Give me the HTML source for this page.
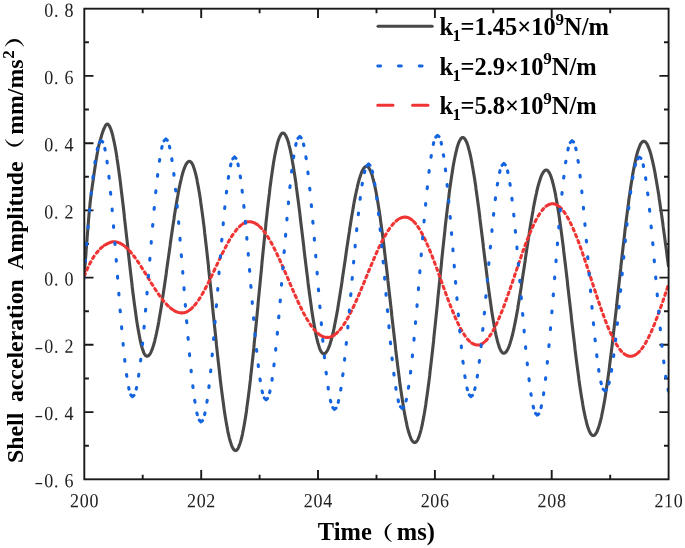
<!DOCTYPE html>
<html lang="en"><head><meta charset="utf-8"><title>Shell acceleration amplitude</title>
<style>html,body{margin:0;padding:0;background:#fff}svg{display:block}</style></head>
<body>
<svg width="685" height="548" viewBox="0 0 685 548">
<rect width="685" height="548" fill="#fff"/>
<g stroke="#1a1a1a" stroke-width="1.9" fill="none" stroke-linecap="butt">
<path d="M142.7 479.3v-4.6M142.7 8.7v4.6M201.2 479.3v-9.2M201.2 8.7v9.2M259.6 479.3v-4.6M259.6 8.7v4.6M318.0 479.3v-9.2M318.0 8.7v9.2M376.5 479.3v-4.6M376.5 8.7v4.6M434.9 479.3v-9.2M434.9 8.7v9.2M493.3 479.3v-4.6M493.3 8.7v4.6M551.7 479.3v-9.2M551.7 8.7v9.2M610.2 479.3v-4.6M610.2 8.7v4.6M84.3 445.7h4.6M668.6 445.7h-4.6M84.3 412.1h9.2M668.6 412.1h-9.2M84.3 378.5h4.6M668.6 378.5h-4.6M84.3 344.8h9.2M668.6 344.8h-9.2M84.3 311.2h4.6M668.6 311.2h-4.6M84.3 277.6h9.2M668.6 277.6h-9.2M84.3 244.0h4.6M668.6 244.0h-4.6M84.3 210.4h9.2M668.6 210.4h-9.2M84.3 176.8h4.6M668.6 176.8h-4.6M84.3 143.2h9.2M668.6 143.2h-9.2M84.3 109.5h4.6M668.6 109.5h-4.6M84.3 75.9h9.2M668.6 75.9h-9.2M84.3 42.3h4.6M668.6 42.3h-4.6"/>
</g>
<clipPath id="c"><rect x="84.3" y="8.7" width="584.3" height="470.6"/></clipPath>
<g clip-path="url(#c)" fill="none" stroke-linejoin="round">
<path d="M84.3,274.0 L84.7,269.1 L85.1,264.1 L85.5,259.2 L85.9,254.3 L86.2,249.4 L86.6,244.5 L87.0,239.6 L87.4,234.6 L87.8,229.5 L88.2,224.3 L88.6,219.3 L89.0,214.6 L89.4,210.3 L89.8,206.5 L90.1,203.0 L90.5,199.6 L90.9,196.3 L91.3,193.3 L91.7,190.3 L92.1,187.4 L92.5,184.6 L92.9,181.9 L93.3,179.3 L93.7,176.6 L94.0,174.0 L94.4,171.3 L94.8,168.7 L95.2,166.0 L95.6,163.4 L96.0,160.9 L96.4,158.4 L96.8,156.0 L97.2,153.7 L97.6,151.5 L97.9,149.5 L98.3,147.6 L98.7,145.8 L99.1,144.2 L99.5,142.8 L99.9,141.4 L100.3,140.0 L100.7,138.6 L101.1,137.3 L101.5,136.0 L101.8,134.7 L102.2,133.5 L102.6,132.3 L103.0,131.2 L103.4,130.2 L103.8,129.2 L104.2,128.2 L104.6,127.4 L105.0,126.6 L105.3,125.9 L105.7,125.3 L106.1,124.8 L106.5,124.4 L106.9,124.0 L107.3,124.0 L107.7,124.2 L108.1,124.4 L108.5,124.8 L108.9,125.3 L109.2,125.8 L109.6,126.5 L110.0,127.3 L110.4,128.2 L110.8,129.2 L111.2,130.3 L111.6,131.5 L112.0,132.8 L112.4,134.3 L112.8,135.8 L113.1,137.4 L113.5,139.1 L113.9,140.9 L114.3,142.8 L114.7,144.7 L115.1,146.8 L115.5,149.0 L115.9,151.2 L116.3,153.5 L116.7,156.0 L117.0,158.4 L117.4,161.0 L117.8,163.6 L118.2,166.3 L118.6,169.1 L119.0,172.0 L119.4,174.9 L119.8,177.8 L120.2,180.9 L120.6,184.0 L120.9,187.1 L121.3,190.3 L121.7,193.5 L122.1,196.8 L122.5,200.1 L122.9,203.5 L123.3,206.8 L123.7,210.3 L124.1,213.7 L124.4,217.2 L124.8,220.7 L125.2,224.2 L125.6,227.7 L126.0,231.3 L126.4,234.8 L126.8,238.4 L127.2,241.9 L127.6,245.5 L128.0,249.0 L128.3,252.5 L128.7,256.1 L129.1,259.6 L129.5,263.1 L129.9,266.5 L130.3,270.0 L130.7,273.4 L131.1,276.8 L131.5,280.2 L131.9,283.5 L132.2,286.7 L132.6,290.0 L133.0,293.2 L133.4,296.3 L133.8,299.4 L134.2,302.4 L134.6,305.4 L135.0,308.3 L135.4,311.1 L135.8,313.9 L136.1,316.6 L136.5,319.3 L136.9,321.8 L137.3,324.3 L137.7,326.7 L138.1,329.0 L138.5,331.3 L138.9,333.4 L139.3,335.5 L139.7,337.5 L140.0,339.4 L140.4,341.2 L140.8,342.9 L141.2,344.5 L141.6,346.0 L142.0,347.4 L142.4,348.7 L142.8,349.9 L143.2,351.0 L143.5,352.0 L143.9,352.9 L144.3,353.7 L144.7,354.4 L145.1,355.0 L145.5,355.5 L145.9,355.8 L146.3,356.1 L146.7,356.2 L147.1,356.3 L147.4,356.2 L147.8,356.1 L148.2,355.9 L148.6,355.6 L149.0,355.2 L149.4,354.7 L149.8,354.2 L150.2,353.6 L150.6,352.9 L151.0,352.1 L151.3,351.3 L151.7,350.3 L152.1,349.3 L152.5,348.3 L152.9,347.1 L153.3,345.9 L153.7,344.6 L154.1,343.2 L154.5,341.8 L154.9,340.3 L155.2,338.7 L155.6,337.1 L156.0,335.3 L156.4,333.6 L156.8,331.7 L157.2,329.8 L157.6,327.9 L158.0,325.9 L158.4,323.8 L158.8,321.7 L159.1,319.5 L159.5,317.3 L159.9,315.0 L160.3,312.7 L160.7,310.3 L161.1,307.9 L161.5,305.5 L161.9,303.0 L162.3,300.5 L162.6,297.9 L163.0,295.3 L163.4,292.7 L163.8,290.1 L164.2,287.4 L164.6,284.7 L165.0,282.0 L165.4,279.2 L165.8,276.5 L166.2,273.7 L166.5,270.9 L166.9,268.1 L167.3,265.3 L167.7,262.5 L168.1,259.7 L168.5,256.9 L168.9,254.1 L169.3,251.3 L169.7,248.5 L170.1,245.7 L170.4,242.9 L170.8,240.2 L171.2,237.4 L171.6,234.7 L172.0,232.0 L172.4,229.3 L172.8,226.6 L173.2,224.0 L173.6,221.4 L174.0,218.8 L174.3,216.2 L174.7,213.7 L175.1,211.3 L175.5,208.8 L175.9,206.4 L176.3,204.1 L176.7,201.8 L177.1,199.5 L177.5,197.3 L177.9,195.2 L178.2,193.1 L178.6,191.0 L179.0,189.0 L179.4,187.1 L179.8,185.2 L180.2,183.4 L180.6,181.7 L181.0,180.0 L181.4,178.3 L181.7,176.8 L182.1,175.3 L182.5,173.9 L182.9,172.5 L183.3,171.3 L183.7,170.1 L184.1,168.9 L184.5,167.9 L184.9,166.9 L185.3,166.0 L185.6,165.2 L186.0,164.4 L186.4,163.8 L186.8,163.2 L187.2,162.7 L187.6,162.2 L188.0,161.9 L188.4,161.6 L188.8,161.4 L189.2,161.3 L189.5,161.3 L189.9,161.4 L190.3,161.6 L190.7,161.8 L191.1,162.2 L191.5,162.7 L191.9,163.3 L192.3,163.9 L192.7,164.7 L193.1,165.6 L193.4,166.6 L193.8,167.7 L194.2,168.8 L194.6,170.1 L195.0,171.5 L195.4,172.9 L195.8,174.5 L196.2,176.1 L196.6,177.9 L197.0,179.7 L197.3,181.6 L197.7,183.7 L198.1,185.8 L198.5,187.9 L198.9,190.2 L199.3,192.5 L199.7,195.0 L200.1,197.5 L200.5,200.1 L200.8,202.7 L201.2,205.5 L201.6,208.3 L202.0,211.1 L202.4,214.1 L202.8,217.1 L203.2,220.1 L203.6,223.3 L204.0,226.4 L204.4,229.7 L204.7,233.0 L205.1,236.3 L205.5,239.7 L205.9,243.2 L206.3,246.6 L206.7,250.2 L207.1,253.7 L207.5,257.4 L207.9,261.0 L208.3,264.7 L208.6,268.4 L209.0,272.1 L209.4,275.8 L209.8,279.6 L210.2,283.4 L210.6,287.2 L211.0,291.0 L211.4,294.9 L211.8,298.7 L212.2,302.5 L212.5,306.4 L212.9,310.2 L213.3,314.1 L213.7,317.9 L214.1,321.7 L214.5,325.6 L214.9,329.4 L215.3,333.2 L215.7,336.9 L216.1,340.7 L216.4,344.4 L216.8,348.1 L217.2,351.7 L217.6,355.4 L218.0,359.0 L218.4,362.5 L218.8,366.1 L219.2,369.5 L219.6,373.0 L219.9,376.3 L220.3,379.7 L220.7,383.0 L221.1,386.2 L221.5,389.4 L221.9,392.5 L222.3,395.5 L222.7,398.5 L223.1,401.4 L223.5,404.3 L223.8,407.1 L224.2,409.8 L224.6,412.4 L225.0,415.0 L225.4,417.5 L225.8,419.9 L226.2,422.2 L226.6,424.5 L227.0,426.6 L227.4,428.7 L227.7,430.7 L228.1,432.6 L228.5,434.4 L228.9,436.1 L229.3,437.8 L229.7,439.3 L230.1,440.7 L230.5,442.1 L230.9,443.3 L231.3,444.5 L231.6,445.5 L232.0,446.5 L232.4,447.3 L232.8,448.1 L233.2,448.8 L233.6,449.3 L234.0,449.8 L234.4,450.1 L234.8,450.4 L235.1,450.5 L235.5,450.6 L235.9,450.5 L236.3,450.3 L236.7,450.1 L237.1,449.7 L237.5,449.2 L237.9,448.6 L238.3,447.9 L238.7,447.1 L239.0,446.2 L239.4,445.2 L239.8,444.1 L240.2,442.9 L240.6,441.6 L241.0,440.2 L241.4,438.7 L241.8,437.1 L242.2,435.4 L242.6,433.6 L242.9,431.7 L243.3,429.8 L243.7,427.7 L244.1,425.5 L244.5,423.3 L244.9,420.9 L245.3,418.5 L245.7,416.0 L246.1,413.4 L246.5,410.7 L246.8,408.0 L247.2,405.1 L247.6,402.2 L248.0,399.2 L248.4,396.2 L248.8,393.1 L249.2,389.9 L249.6,386.6 L250.0,383.3 L250.4,379.9 L250.7,376.5 L251.1,373.0 L251.5,369.5 L251.9,365.9 L252.3,362.2 L252.7,358.5 L253.1,354.8 L253.5,351.0 L253.9,347.2 L254.2,343.3 L254.6,339.4 L255.0,335.5 L255.4,331.5 L255.8,327.6 L256.2,323.6 L256.6,319.5 L257.0,315.5 L257.4,311.4 L257.8,307.4 L258.1,303.3 L258.5,299.2 L258.9,295.1 L259.3,291.0 L259.7,286.9 L260.1,282.8 L260.5,278.7 L260.9,274.6 L261.3,270.6 L261.7,266.5 L262.0,262.5 L262.4,258.5 L262.8,254.5 L263.2,250.5 L263.6,246.6 L264.0,242.7 L264.4,238.8 L264.8,234.9 L265.2,231.1 L265.6,227.4 L265.9,223.6 L266.3,220.0 L266.7,216.3 L267.1,212.8 L267.5,209.2 L267.9,205.8 L268.3,202.3 L268.7,199.0 L269.1,195.7 L269.5,192.5 L269.8,189.3 L270.2,186.2 L270.6,183.2 L271.0,180.2 L271.4,177.4 L271.8,174.6 L272.2,171.8 L272.6,169.2 L273.0,166.6 L273.3,164.2 L273.7,161.8 L274.1,159.5 L274.5,157.2 L274.9,155.1 L275.3,153.1 L275.7,151.1 L276.1,149.3 L276.5,147.5 L276.9,145.9 L277.2,144.3 L277.6,142.8 L278.0,141.5 L278.4,140.2 L278.8,139.0 L279.2,138.0 L279.6,137.0 L280.0,136.2 L280.4,135.4 L280.8,134.8 L281.1,134.2 L281.5,133.8 L281.9,133.4 L282.3,133.2 L282.7,133.1 L283.1,133.1 L283.5,133.2 L283.9,133.3 L284.3,133.6 L284.7,134.0 L285.0,134.5 L285.4,135.1 L285.8,135.7 L286.2,136.5 L286.6,137.4 L287.0,138.3 L287.4,139.4 L287.8,140.6 L288.2,141.8 L288.6,143.1 L288.9,144.6 L289.3,146.1 L289.7,147.7 L290.1,149.4 L290.5,151.2 L290.9,153.0 L291.3,155.0 L291.7,157.0 L292.1,159.1 L292.4,161.3 L292.8,163.5 L293.2,165.8 L293.6,168.2 L294.0,170.7 L294.4,173.2 L294.8,175.8 L295.2,178.4 L295.6,181.1 L296.0,183.9 L296.3,186.7 L296.7,189.6 L297.1,192.5 L297.5,195.5 L297.9,198.5 L298.3,201.5 L298.7,204.6 L299.1,207.7 L299.5,210.9 L299.9,214.0 L300.2,217.3 L300.6,220.5 L301.0,223.7 L301.4,227.0 L301.8,230.3 L302.2,233.6 L302.6,236.9 L303.0,240.2 L303.4,243.5 L303.8,246.8 L304.1,250.1 L304.5,253.4 L304.9,256.7 L305.3,260.0 L305.7,263.3 L306.1,266.5 L306.5,269.8 L306.9,273.0 L307.3,276.1 L307.7,279.3 L308.0,282.4 L308.4,285.5 L308.8,288.5 L309.2,291.5 L309.6,294.5 L310.0,297.4 L310.4,300.3 L310.8,303.1 L311.2,305.9 L311.5,308.6 L311.9,311.2 L312.3,313.8 L312.7,316.3 L313.1,318.8 L313.5,321.2 L313.9,323.5 L314.3,325.7 L314.7,327.9 L315.1,330.0 L315.4,332.0 L315.8,333.9 L316.2,335.8 L316.6,337.6 L317.0,339.2 L317.4,340.8 L317.8,342.4 L318.2,343.8 L318.6,345.1 L319.0,346.4 L319.3,347.5 L319.7,348.6 L320.1,349.5 L320.5,350.4 L320.9,351.2 L321.3,351.8 L321.7,352.4 L322.1,352.9 L322.5,353.2 L322.9,353.5 L323.2,353.7 L323.6,353.8 L324.0,353.8 L324.4,353.7 L324.8,353.5 L325.2,353.3 L325.6,352.9 L326.0,352.5 L326.4,352.1 L326.8,351.5 L327.1,350.9 L327.5,350.2 L327.9,349.4 L328.3,348.6 L328.7,347.6 L329.1,346.7 L329.5,345.6 L329.9,344.5 L330.3,343.3 L330.6,342.0 L331.0,340.7 L331.4,339.3 L331.8,337.8 L332.2,336.3 L332.6,334.7 L333.0,333.0 L333.4,331.3 L333.8,329.5 L334.2,327.7 L334.5,325.8 L334.9,323.9 L335.3,321.9 L335.7,319.8 L336.1,317.7 L336.5,315.6 L336.9,313.4 L337.3,311.2 L337.7,308.9 L338.1,306.6 L338.4,304.3 L338.8,301.9 L339.2,299.5 L339.6,297.0 L340.0,294.5 L340.4,292.0 L340.8,289.5 L341.2,286.9 L341.6,284.3 L342.0,281.7 L342.3,279.1 L342.7,276.5 L343.1,273.8 L343.5,271.2 L343.9,268.5 L344.3,265.8 L344.7,263.2 L345.1,260.5 L345.5,257.8 L345.9,255.1 L346.2,252.4 L346.6,249.8 L347.0,247.1 L347.4,244.5 L347.8,241.8 L348.2,239.2 L348.6,236.6 L349.0,234.0 L349.4,231.4 L349.7,228.9 L350.1,226.4 L350.5,223.9 L350.9,221.4 L351.3,219.0 L351.7,216.6 L352.1,214.2 L352.5,211.9 L352.9,209.6 L353.3,207.4 L353.6,205.2 L354.0,203.0 L354.4,200.9 L354.8,198.9 L355.2,196.9 L355.6,194.9 L356.0,193.0 L356.4,191.2 L356.8,189.4 L357.2,187.6 L357.5,186.0 L357.9,184.4 L358.3,182.8 L358.7,181.3 L359.1,179.9 L359.5,178.5 L359.9,177.3 L360.3,176.0 L360.7,174.9 L361.1,173.8 L361.4,172.8 L361.8,171.8 L362.2,171.0 L362.6,170.2 L363.0,169.5 L363.4,168.8 L363.8,168.2 L364.2,167.7 L364.6,167.3 L365.0,167.0 L365.3,166.7 L365.7,166.5 L366.1,166.4 L366.5,166.4 L366.9,166.4 L367.3,166.5 L367.7,166.7 L368.1,167.1 L368.5,167.5 L368.8,167.9 L369.2,168.5 L369.6,169.2 L370.0,169.9 L370.4,170.8 L370.8,171.7 L371.2,172.7 L371.6,173.8 L372.0,175.0 L372.4,176.2 L372.7,177.6 L373.1,179.0 L373.5,180.5 L373.9,182.1 L374.3,183.8 L374.7,185.5 L375.1,187.3 L375.5,189.2 L375.9,191.2 L376.3,193.2 L376.6,195.4 L377.0,197.5 L377.4,199.8 L377.8,202.1 L378.2,204.5 L378.6,207.0 L379.0,209.5 L379.4,212.1 L379.8,214.7 L380.2,217.4 L380.5,220.1 L380.9,222.9 L381.3,225.8 L381.7,228.7 L382.1,231.7 L382.5,234.7 L382.9,237.7 L383.3,240.8 L383.7,244.0 L384.1,247.1 L384.4,250.3 L384.8,253.6 L385.2,256.9 L385.6,260.2 L386.0,263.5 L386.4,266.9 L386.8,270.3 L387.2,273.7 L387.6,277.1 L387.9,280.5 L388.3,284.0 L388.7,287.5 L389.1,291.0 L389.5,294.5 L389.9,298.0 L390.3,301.5 L390.7,305.0 L391.1,308.5 L391.5,312.0 L391.8,315.5 L392.2,319.0 L392.6,322.5 L393.0,325.9 L393.4,329.4 L393.8,332.8 L394.2,336.3 L394.6,339.7 L395.0,343.0 L395.4,346.4 L395.7,349.7 L396.1,353.0 L396.5,356.3 L396.9,359.5 L397.3,362.7 L397.7,365.9 L398.1,369.0 L398.5,372.1 L398.9,375.1 L399.3,378.1 L399.6,381.1 L400.0,384.0 L400.4,386.8 L400.8,389.6 L401.2,392.3 L401.6,395.0 L402.0,397.6 L402.4,400.2 L402.8,402.7 L403.2,405.1 L403.5,407.5 L403.9,409.8 L404.3,412.0 L404.7,414.2 L405.1,416.3 L405.5,418.3 L405.9,420.3 L406.3,422.1 L406.7,423.9 L407.0,425.6 L407.4,427.3 L407.8,428.9 L408.2,430.3 L408.6,431.7 L409.0,433.1 L409.4,434.3 L409.8,435.5 L410.2,436.5 L410.6,437.5 L410.9,438.4 L411.3,439.2 L411.7,439.9 L412.1,440.6 L412.5,441.1 L412.9,441.6 L413.3,442.0 L413.7,442.2 L414.1,442.4 L414.5,442.5 L414.8,442.6 L415.2,442.5 L415.6,442.3 L416.0,442.0 L416.4,441.6 L416.8,441.2 L417.2,440.6 L417.6,439.9 L418.0,439.1 L418.4,438.3 L418.7,437.3 L419.1,436.3 L419.5,435.1 L419.9,433.9 L420.3,432.5 L420.7,431.1 L421.1,429.6 L421.5,427.9 L421.9,426.2 L422.3,424.4 L422.6,422.6 L423.0,420.6 L423.4,418.5 L423.8,416.4 L424.2,414.2 L424.6,411.9 L425.0,409.5 L425.4,407.0 L425.8,404.5 L426.1,401.9 L426.5,399.2 L426.9,396.5 L427.3,393.7 L427.7,390.8 L428.1,387.8 L428.5,384.8 L428.9,381.7 L429.3,378.6 L429.7,375.4 L430.0,372.1 L430.4,368.8 L430.8,365.5 L431.2,362.1 L431.6,358.6 L432.0,355.1 L432.4,351.6 L432.8,348.0 L433.2,344.4 L433.6,340.7 L433.9,337.1 L434.3,333.3 L434.7,329.6 L435.1,325.8 L435.5,322.0 L435.9,318.2 L436.3,314.4 L436.7,310.6 L437.1,306.7 L437.5,302.8 L437.8,298.9 L438.2,295.1 L438.6,291.2 L439.0,287.3 L439.4,283.4 L439.8,279.5 L440.2,275.6 L440.6,271.8 L441.0,267.9 L441.4,264.1 L441.7,260.3 L442.1,256.5 L442.5,252.7 L442.9,248.9 L443.3,245.2 L443.7,241.5 L444.1,237.8 L444.5,234.2 L444.9,230.6 L445.2,227.0 L445.6,223.5 L446.0,220.0 L446.4,216.6 L446.8,213.2 L447.2,209.9 L447.6,206.6 L448.0,203.4 L448.4,200.2 L448.8,197.1 L449.1,194.0 L449.5,191.0 L449.9,188.1 L450.3,185.2 L450.7,182.5 L451.1,179.7 L451.5,177.1 L451.9,174.5 L452.3,172.0 L452.7,169.6 L453.0,167.2 L453.4,165.0 L453.8,162.8 L454.2,160.7 L454.6,158.7 L455.0,156.7 L455.4,154.9 L455.8,153.1 L456.2,151.5 L456.6,149.9 L456.9,148.4 L457.3,147.0 L457.7,145.7 L458.1,144.5 L458.5,143.4 L458.9,142.3 L459.3,141.4 L459.7,140.6 L460.1,139.9 L460.5,139.2 L460.8,138.7 L461.2,138.3 L461.6,137.9 L462.0,137.7 L462.4,137.6 L462.8,137.5 L463.2,137.6 L463.6,137.7 L464.0,138.0 L464.3,138.3 L464.7,138.8 L465.1,139.3 L465.5,139.9 L465.9,140.7 L466.3,141.5 L466.7,142.4 L467.1,143.4 L467.5,144.5 L467.9,145.7 L468.2,147.0 L468.6,148.3 L469.0,149.8 L469.4,151.3 L469.8,152.9 L470.2,154.6 L470.6,156.4 L471.0,158.3 L471.4,160.2 L471.8,162.2 L472.1,164.3 L472.5,166.5 L472.9,168.7 L473.3,171.0 L473.7,173.4 L474.1,175.8 L474.5,178.3 L474.9,180.9 L475.3,183.5 L475.7,186.1 L476.0,188.9 L476.4,191.6 L476.8,194.5 L477.2,197.3 L477.6,200.2 L478.0,203.2 L478.4,206.2 L478.8,209.2 L479.2,212.2 L479.6,215.3 L479.9,218.4 L480.3,221.6 L480.7,224.7 L481.1,227.9 L481.5,231.1 L481.9,234.3 L482.3,237.5 L482.7,240.7 L483.1,244.0 L483.4,247.2 L483.8,250.4 L484.2,253.6 L484.6,256.8 L485.0,260.0 L485.4,263.2 L485.8,266.4 L486.2,269.5 L486.6,272.7 L487.0,275.8 L487.3,278.9 L487.7,281.9 L488.1,284.9 L488.5,287.9 L488.9,290.9 L489.3,293.8 L489.7,296.6 L490.1,299.4 L490.5,302.2 L490.9,304.9 L491.2,307.6 L491.6,310.2 L492.0,312.7 L492.4,315.2 L492.8,317.6 L493.2,320.0 L493.6,322.3 L494.0,324.5 L494.4,326.7 L494.8,328.8 L495.1,330.8 L495.5,332.7 L495.9,334.6 L496.3,336.3 L496.7,338.0 L497.1,339.6 L497.5,341.2 L497.9,342.6 L498.3,344.0 L498.7,345.2 L499.0,346.4 L499.4,347.5 L499.8,348.5 L500.2,349.4 L500.6,350.2 L501.0,350.9 L501.4,351.5 L501.8,352.1 L502.2,352.5 L502.5,352.8 L502.9,353.1 L503.3,353.2 L503.7,353.2 L504.1,353.2 L504.5,353.1 L504.9,352.9 L505.3,352.6 L505.7,352.3 L506.1,351.9 L506.4,351.4 L506.8,350.8 L507.2,350.2 L507.6,349.5 L508.0,348.7 L508.4,347.8 L508.8,346.9 L509.2,345.9 L509.6,344.8 L510.0,343.7 L510.3,342.5 L510.7,341.2 L511.1,339.9 L511.5,338.5 L511.9,337.0 L512.3,335.5 L512.7,333.9 L513.1,332.2 L513.5,330.5 L513.9,328.7 L514.2,326.9 L514.6,325.0 L515.0,323.1 L515.4,321.1 L515.8,319.1 L516.2,317.0 L516.6,314.9 L517.0,312.7 L517.4,310.5 L517.8,308.3 L518.1,306.0 L518.5,303.6 L518.9,301.3 L519.3,298.9 L519.7,296.5 L520.1,294.0 L520.5,291.5 L520.9,289.0 L521.3,286.5 L521.6,284.0 L522.0,281.4 L522.4,278.8 L522.8,276.2 L523.2,273.6 L523.6,271.0 L524.0,268.4 L524.4,265.7 L524.8,263.1 L525.2,260.4 L525.5,257.8 L525.9,255.2 L526.3,252.6 L526.7,249.9 L527.1,247.3 L527.5,244.7 L527.9,242.1 L528.3,239.6 L528.7,237.0 L529.1,234.5 L529.4,232.0 L529.8,229.5 L530.2,227.0 L530.6,224.6 L531.0,222.2 L531.4,219.9 L531.8,217.5 L532.2,215.2 L532.6,213.0 L533.0,210.8 L533.3,208.6 L533.7,206.5 L534.1,204.4 L534.5,202.4 L534.9,200.4 L535.3,198.4 L535.7,196.6 L536.1,194.7 L536.5,193.0 L536.8,191.2 L537.2,189.6 L537.6,188.0 L538.0,186.4 L538.4,185.0 L538.8,183.6 L539.2,182.2 L539.6,180.9 L540.0,179.7 L540.4,178.6 L540.7,177.5 L541.1,176.5 L541.5,175.6 L541.9,174.7 L542.3,173.9 L542.7,173.2 L543.1,172.5 L543.5,172.0 L543.9,171.5 L544.3,171.0 L544.6,170.7 L545.0,170.4 L545.4,170.2 L545.8,170.1 L546.2,170.0 L546.6,170.1 L547.0,170.2 L547.4,170.4 L547.8,170.7 L548.2,171.1 L548.5,171.6 L548.9,172.2 L549.3,172.8 L549.7,173.6 L550.1,174.4 L550.5,175.4 L550.9,176.4 L551.3,177.5 L551.7,178.7 L552.1,179.9 L552.4,181.3 L552.8,182.7 L553.2,184.2 L553.6,185.8 L554.0,187.5 L554.4,189.3 L554.8,191.1 L555.2,193.0 L555.6,195.0 L555.9,197.0 L556.3,199.2 L556.7,201.4 L557.1,203.6 L557.5,205.9 L557.9,208.3 L558.3,210.8 L558.7,213.3 L559.1,215.9 L559.5,218.6 L559.8,221.3 L560.2,224.0 L560.6,226.8 L561.0,229.7 L561.4,232.6 L561.8,235.6 L562.2,238.6 L562.6,241.6 L563.0,244.7 L563.4,247.9 L563.7,251.0 L564.1,254.2 L564.5,257.5 L564.9,260.7 L565.3,264.0 L565.7,267.4 L566.1,270.7 L566.5,274.1 L566.9,277.5 L567.3,280.9 L567.6,284.3 L568.0,287.7 L568.4,291.2 L568.8,294.6 L569.2,298.1 L569.6,301.5 L570.0,305.0 L570.4,308.5 L570.8,311.9 L571.2,315.4 L571.5,318.8 L571.9,322.2 L572.3,325.6 L572.7,329.0 L573.1,332.4 L573.5,335.8 L573.9,339.1 L574.3,342.4 L574.7,345.7 L575.0,349.0 L575.4,352.2 L575.8,355.4 L576.2,358.6 L576.6,361.7 L577.0,364.8 L577.4,367.8 L577.8,370.8 L578.2,373.8 L578.6,376.7 L578.9,379.5 L579.3,382.3 L579.7,385.1 L580.1,387.7 L580.5,390.4 L580.9,392.9 L581.3,395.5 L581.7,397.9 L582.1,400.3 L582.5,402.6 L582.8,404.8 L583.2,407.0 L583.6,409.1 L584.0,411.2 L584.4,413.1 L584.8,415.0 L585.2,416.8 L585.6,418.6 L586.0,420.2 L586.4,421.8 L586.7,423.3 L587.1,424.7 L587.5,426.0 L587.9,427.3 L588.3,428.4 L588.7,429.5 L589.1,430.5 L589.5,431.4 L589.9,432.2 L590.3,433.0 L590.6,433.6 L591.0,434.1 L591.4,434.6 L591.8,435.0 L592.2,435.3 L592.6,435.4 L593.0,435.5 L593.4,435.6 L593.8,435.5 L594.1,435.3 L594.5,435.1 L594.9,434.7 L595.3,434.3 L595.7,433.8 L596.1,433.2 L596.5,432.6 L596.9,431.8 L597.3,430.9 L597.7,430.0 L598.0,429.0 L598.4,427.9 L598.8,426.7 L599.2,425.5 L599.6,424.1 L600.0,422.7 L600.4,421.2 L600.8,419.7 L601.2,418.0 L601.6,416.3 L601.9,414.5 L602.3,412.6 L602.7,410.7 L603.1,408.6 L603.5,406.5 L603.9,404.4 L604.3,402.2 L604.7,399.9 L605.1,397.5 L605.5,395.1 L605.8,392.6 L606.2,390.0 L606.6,387.4 L607.0,384.8 L607.4,382.0 L607.8,379.3 L608.2,376.4 L608.6,373.5 L609.0,370.6 L609.4,367.6 L609.7,364.6 L610.1,361.5 L610.5,358.4 L610.9,355.3 L611.3,352.1 L611.7,348.8 L612.1,345.6 L612.5,342.3 L612.9,338.9 L613.2,335.6 L613.6,332.2 L614.0,328.8 L614.4,325.3 L614.8,321.9 L615.2,318.4 L615.6,314.9 L616.0,311.4 L616.4,307.8 L616.8,304.3 L617.1,300.7 L617.5,297.2 L617.9,293.6 L618.3,290.1 L618.7,286.5 L619.1,282.9 L619.5,279.4 L619.9,275.8 L620.3,272.3 L620.7,268.7 L621.0,265.2 L621.4,261.7 L621.8,258.2 L622.2,254.7 L622.6,251.3 L623.0,247.8 L623.4,244.4 L623.8,241.0 L624.2,237.7 L624.6,234.3 L624.9,231.0 L625.3,227.8 L625.7,224.5 L626.1,221.3 L626.5,218.2 L626.9,215.1 L627.3,212.0 L627.7,209.0 L628.1,206.0 L628.5,203.1 L628.8,200.2 L629.2,197.4 L629.6,194.6 L630.0,191.9 L630.4,189.2 L630.8,186.6 L631.2,184.1 L631.6,181.6 L632.0,179.2 L632.3,176.8 L632.7,174.5 L633.1,172.3 L633.5,170.1 L633.9,168.1 L634.3,166.0 L634.7,164.1 L635.1,162.2 L635.5,160.4 L635.9,158.7 L636.2,157.1 L636.6,155.5 L637.0,154.0 L637.4,152.6 L637.8,151.3 L638.2,150.0 L638.6,148.8 L639.0,147.8 L639.4,146.7 L639.8,145.8 L640.1,145.0 L640.5,144.2 L640.9,143.6 L641.3,143.0 L641.7,142.5 L642.1,142.1 L642.5,141.7 L642.9,141.5 L643.3,141.3 L643.7,141.3 L644.0,141.3 L644.4,141.4 L644.8,141.6 L645.2,141.8 L645.6,142.2 L646.0,142.6 L646.4,143.1 L646.8,143.7 L647.2,144.3 L647.6,145.0 L647.9,145.9 L648.3,146.8 L648.7,147.7 L649.1,148.8 L649.5,149.9 L649.9,151.1 L650.3,152.3 L650.7,153.7 L651.1,155.1 L651.4,156.5 L651.8,158.1 L652.2,159.7 L652.6,161.4 L653.0,163.1 L653.4,164.9 L653.8,166.8 L654.2,168.7 L654.6,170.7 L655.0,172.8 L655.3,174.9 L655.7,177.1 L656.1,179.3 L656.5,181.5 L656.9,183.9 L657.3,186.2 L657.7,188.6 L658.1,191.1 L658.5,193.6 L658.9,196.1 L659.2,198.7 L659.6,201.3 L660.0,204.0 L660.4,206.7 L660.8,209.4 L661.2,212.1 L661.6,214.9 L662.0,217.7 L662.4,220.5 L662.8,223.3 L663.1,226.2 L663.5,229.1 L663.9,232.0 L664.3,234.9 L664.7,237.8 L665.1,240.7 L665.5,243.6 L665.9,246.5 L666.3,249.4 L666.7,252.4 L667.0,255.3 L667.4,258.2 L667.8,261.1 L668.2,264.0 L668.6,266.9" stroke="#484848" stroke-width="3.1"/>
<path d="M84.3 276.0L84.6 275.2L85.0 274.4L85.3 273.6M86.8 270.0L87.2 269.2L87.5 268.4L87.9 267.6M89.6 264.1L90.0 263.3L90.4 262.6L90.8 261.8M92.7 258.4L93.2 257.7L93.6 257.0L94.1 256.2M96.5 253.1L97.0 252.5L97.6 251.8L98.1 251.1M100.5 248.5L101.2 247.9L101.8 247.3L102.5 246.8M104.6 245.2L105.4 244.8L106.1 244.4L106.9 244.0L107.7 243.6L108.5 243.2L109.2 242.9L110.0 242.5L110.9 242.2L111.7 242.0L112.5 241.8L113.4 241.7L114.3 241.7L115.1 241.7L116.0 241.9L116.8 242.1L117.7 242.3L118.5 242.6L119.3 242.9L120.1 243.2L120.8 243.6L121.6 244.1L122.3 244.5L123.1 245.0L123.8 245.5M125.6 247.0L126.2 247.5L126.9 248.1L127.5 248.7M129.7 251.0L130.3 251.6L130.8 252.3L131.4 253.0M133.7 255.8L134.2 256.5L134.7 257.2L135.2 257.9M137.5 261.1L138.0 261.8L138.4 262.5L138.9 263.2M141.1 266.5L141.5 267.2L142.0 268.0L142.4 268.7M144.5 272.0L145.0 272.7L145.4 273.5L145.9 274.2M147.9 277.5L148.4 278.3L148.8 279.0L149.3 279.8M151.3 283.1L151.8 283.8L152.2 284.5L152.7 285.3M154.8 288.6L155.3 289.3L155.7 290.0L156.2 290.8M158.4 294.0L158.9 294.7L159.4 295.4L159.9 296.1M162.2 299.2L162.8 299.9L163.3 300.6L163.8 301.3M166.3 304.0L166.9 304.7L167.5 305.3L168.1 305.9M170.4 308.0L171.1 308.5L171.8 309.1L172.5 309.6M174.3 310.7L175.0 311.1L175.8 311.5L176.6 311.8L177.4 312.1L178.3 312.4L179.1 312.6L180.0 312.8L180.8 312.9L181.7 312.9L182.5 312.9L183.4 312.8L184.3 312.7L185.1 312.4L185.9 312.2L186.7 311.8L187.5 311.4L188.2 311.0L189.0 310.5M190.6 309.3L191.3 308.7L191.9 308.1L192.5 307.5M194.7 305.1L195.3 304.5L195.8 303.8L196.3 303.1M198.6 300.0L199.1 299.2L199.5 298.5L200.0 297.8M202.0 294.5L202.5 293.7L202.9 293.0L203.3 292.2M205.2 288.8L205.6 288.0L206.0 287.2L206.4 286.5M208.2 283.0L208.6 282.2L208.9 281.5L209.3 280.7M211.0 277.2L211.4 276.4L211.8 275.6L212.2 274.8M213.8 271.3L214.2 270.5L214.6 269.7L214.9 268.9M216.6 265.4L217.0 264.6L217.3 263.9L217.7 263.1M219.4 259.5L219.8 258.8L220.1 258.0L220.5 257.2M222.2 253.7L222.6 252.9L223.0 252.1L223.4 251.4M225.2 247.9L225.6 247.1L226.0 246.4L226.4 245.6M228.2 242.2L228.7 241.4L229.1 240.7L229.5 239.9M231.6 236.6L232.0 235.9L232.5 235.1L233.0 234.4M235.3 231.3L235.8 230.6L236.4 229.9L236.9 229.2M239.4 226.6L240.0 226.0L240.7 225.5L241.3 224.9M243.4 223.5L244.2 223.1L244.9 222.7L245.7 222.4L246.6 222.1L247.4 221.9L248.3 221.8L249.1 221.7L250.0 221.7L250.9 221.8L251.7 222.0L252.5 222.2L253.4 222.4L254.2 222.8L255.0 223.2L255.7 223.6L256.5 224.0L257.2 224.5L257.9 225.0M259.7 226.7L260.4 227.3L261.0 227.9L261.6 228.5M263.8 231.2L264.3 231.8L264.8 232.5L265.3 233.2M267.5 236.5L268.0 237.2L268.4 237.9L268.9 238.7M270.9 242.0L271.3 242.8L271.7 243.6L272.1 244.3M273.9 247.8L274.3 248.6L274.7 249.3L275.1 250.1M276.8 253.6L277.2 254.4L277.5 255.2L277.9 256.0M279.6 259.5L279.9 260.3L280.3 261.1L280.6 261.9M282.2 265.4L282.6 266.2L282.9 267.0L283.3 267.8M284.8 271.4L285.2 272.2L285.5 273.0L285.8 273.8M287.4 277.4L287.7 278.1L288.1 278.9L288.4 279.7M289.9 283.3L290.3 284.1L290.6 284.9L291.0 285.7M292.5 289.3L292.9 290.1L293.2 290.9L293.6 291.7M295.1 295.2L295.5 296.0L295.8 296.8L296.2 297.6M297.8 301.2L298.2 302.0L298.5 302.7L298.9 303.5M300.6 307.0L301.0 307.8L301.4 308.6L301.7 309.4M303.5 312.9L303.9 313.6L304.3 314.4L304.7 315.1M306.6 318.5L307.1 319.3L307.5 320.0L308.0 320.8M310.1 324.1L310.6 324.8L311.0 325.5L311.5 326.2M313.9 329.3L314.5 329.9L315.1 330.6L315.7 331.2M318.1 333.5L318.7 334.1L319.4 334.6L320.2 335.1M321.9 336.1L322.7 336.5L323.5 336.8L324.3 337.0L325.1 337.2L326.0 337.4L326.9 337.4L327.7 337.4L328.6 337.4L329.5 337.2L330.3 337.0L331.1 336.7L331.9 336.4L332.7 336.0L333.4 335.6L334.2 335.1M335.8 333.9L336.5 333.3L337.1 332.7L337.7 332.1M339.9 329.8L340.4 329.1L341.0 328.4L341.5 327.8M343.8 324.6L344.2 323.9L344.7 323.1L345.2 322.4M347.2 319.0L347.6 318.3L348.0 317.5L348.4 316.8M350.2 313.3L350.6 312.6L351.0 311.8L351.4 311.0M353.1 307.5L353.5 306.7L353.9 305.9L354.2 305.2M355.9 301.6L356.2 300.8L356.6 300.0L356.9 299.2M358.5 295.7L358.8 294.9L359.2 294.1L359.5 293.3M361.0 289.7L361.4 288.9L361.7 288.1L362.0 287.3M363.5 283.7L363.9 282.9L364.2 282.1L364.5 281.3M366.0 277.7L366.3 276.9L366.7 276.1L367.0 275.3M368.5 271.7L368.8 270.9L369.1 270.1L369.5 269.3M371.0 265.7L371.3 264.9L371.7 264.1L372.0 263.3M373.5 259.7L373.9 258.9L374.2 258.1L374.6 257.3M376.1 253.7L376.5 252.9L376.8 252.1L377.2 251.4M378.8 247.8L379.2 247.0L379.6 246.3L380.0 245.5M381.7 242.0L382.1 241.2L382.5 240.4L382.9 239.7M384.8 236.2L385.2 235.5L385.6 234.7L386.1 234.0M388.1 230.7L388.6 230.0L389.1 229.2L389.6 228.5M391.9 225.4L392.5 224.7L393.0 224.1L393.6 223.4M396.1 221.1L396.7 220.5L397.4 220.0L398.1 219.5M399.9 218.4L400.7 218.1L401.5 217.7L402.3 217.5L403.2 217.3L404.0 217.2L404.9 217.1L405.7 217.1L406.6 217.2L407.4 217.4L408.3 217.7L409.1 218.1L409.8 218.5L410.6 218.9L411.3 219.4L412.0 219.9M413.9 221.7L414.5 222.4L415.1 223.0L415.6 223.7M417.8 226.6L418.3 227.4L418.8 228.1L419.3 228.8M421.2 232.2L421.7 232.9L422.1 233.7L422.5 234.5M424.2 237.9L424.6 238.7L425.0 239.5L425.4 240.3M427.0 243.8L427.3 244.6L427.7 245.4L428.0 246.2M429.5 249.8L429.9 250.6L430.2 251.4L430.5 252.2M432.0 255.8L432.3 256.6L432.6 257.4L432.9 258.3M434.3 261.9L434.6 262.7L434.9 263.5L435.2 264.3M436.6 268.0L436.9 268.8L437.2 269.6L437.5 270.4M438.8 274.1L439.1 274.9L439.4 275.7L439.7 276.5M441.0 280.2L441.3 281.0L441.6 281.8L441.9 282.7M443.2 286.3L443.5 287.1L443.8 288.0L444.1 288.8M445.4 292.4L445.7 293.2L446.0 294.1L446.3 294.9M447.7 298.5L448.0 299.3L448.3 300.2L448.6 301.0M450.0 304.6L450.3 305.4L450.6 306.2L450.9 307.0M452.4 310.6L452.7 311.4L453.0 312.2L453.4 313.0M454.9 316.6L455.2 317.4L455.6 318.2L456.0 319.0M457.6 322.6L458.0 323.3L458.3 324.1L458.7 324.9M460.5 328.4L460.9 329.1L461.3 329.9L461.8 330.6M463.8 334.0L464.2 334.7L464.7 335.4L465.2 336.1M467.6 339.2L468.2 339.9L468.8 340.5L469.4 341.1M471.8 343.1L472.5 343.5L473.3 343.9L474.0 344.3L474.9 344.6L475.7 344.8L476.5 345.0L477.4 345.0L478.3 345.0L479.1 344.9L480.0 344.7L480.8 344.4L481.6 344.0L482.3 343.6L483.1 343.1L483.8 342.6M485.6 341.0L486.2 340.4L486.8 339.8L487.4 339.1M489.6 336.2L490.1 335.5L490.5 334.8L491.0 334.1M493.0 330.7L493.4 330.0L493.8 329.2L494.2 328.4M496.0 324.9L496.4 324.2L496.7 323.4L497.1 322.6M498.7 319.0L499.0 318.2L499.4 317.4L499.7 316.6M501.2 313.0L501.5 312.2L501.9 311.4L502.2 310.6M503.6 307.0L503.9 306.2L504.2 305.4L504.5 304.6M505.8 300.9L506.1 300.1L506.4 299.3L506.7 298.5M508.0 294.8L508.3 294.0L508.6 293.1L508.9 292.3M510.2 288.6L510.5 287.8L510.7 287.0L511.0 286.2M512.3 282.5L512.6 281.7L512.8 280.8L513.1 280.0M514.4 276.3L514.6 275.5L514.9 274.7L515.2 273.9M516.4 270.2L516.7 269.4L517.0 268.5L517.3 267.7M518.5 264.0L518.8 263.2L519.1 262.4L519.4 261.6M520.7 257.9L520.9 257.1L521.2 256.2L521.5 255.4M522.8 251.7L523.1 250.9L523.4 250.1L523.7 249.3M525.0 245.6L525.3 244.8L525.6 244.0L525.9 243.2M527.3 239.6L527.6 238.7L528.0 237.9L528.3 237.1M529.7 233.5L530.1 232.7L530.4 231.9L530.8 231.1M532.3 227.6L532.7 226.8L533.0 226.0L533.4 225.2M535.1 221.7L535.5 220.9L535.9 220.1L536.3 219.4M538.2 216.0L538.7 215.3L539.2 214.5L539.6 213.8M541.9 210.6L542.4 209.9L543.0 209.3L543.6 208.6M546.1 206.3L546.8 205.8L547.5 205.3L548.2 204.9L549.0 204.5L549.8 204.2L550.7 204.0L551.5 203.8L552.4 203.8L553.2 203.8L554.1 203.9L554.9 204.1L555.8 204.4L556.5 204.8L557.3 205.2L558.0 205.7M559.7 206.9L560.3 207.5L560.9 208.1L561.5 208.8M563.7 211.4L564.2 212.1L564.7 212.8L565.2 213.5M567.3 216.9L567.7 217.6L568.1 218.4L568.5 219.1M570.3 222.6L570.7 223.4L571.1 224.2L571.4 224.9M573.1 228.5L573.4 229.3L573.8 230.1L574.1 230.9M575.6 234.5L575.9 235.3L576.2 236.1L576.6 236.9M578.0 240.5L578.3 241.3L578.6 242.1L578.9 243.0M580.2 246.6L580.5 247.4L580.8 248.2L581.1 249.1M582.4 252.7L582.7 253.6L583.0 254.4L583.2 255.2M584.5 258.9L584.8 259.7L585.1 260.5L585.3 261.4M586.6 265.1L586.8 265.9L587.1 266.7L587.4 267.5M588.6 271.2L588.9 272.1L589.1 272.9L589.4 273.7M590.6 277.4L590.9 278.2L591.2 279.1L591.4 279.9M592.6 283.6L592.9 284.4L593.2 285.2L593.4 286.1M594.7 289.8L594.9 290.6L595.2 291.4L595.5 292.2M596.7 295.9L597.0 296.8L597.2 297.6L597.5 298.4M598.8 302.1L599.0 302.9L599.3 303.7L599.6 304.6M600.9 308.2L601.2 309.1L601.5 309.9L601.7 310.7M603.1 314.4L603.4 315.2L603.7 316.0L604.0 316.8M605.3 320.5L605.7 321.3L606.0 322.1L606.3 322.9M607.7 326.5L608.1 327.3L608.4 328.1L608.7 328.9M610.3 332.5L610.7 333.3L611.0 334.1L611.4 334.8M613.1 338.3L613.5 339.1L613.9 339.9L614.3 340.7M616.2 344.0L616.7 344.8L617.1 345.5L617.6 346.2M619.8 349.4L620.4 350.1L621.0 350.8L621.5 351.4M624.0 353.7L624.7 354.2L625.4 354.7L626.2 355.1L627.0 355.5L627.8 355.8L628.6 356.1L629.5 356.2L630.3 356.3L631.2 356.2L632.0 356.1L632.9 355.9L633.7 355.6L634.5 355.3L635.3 354.9L636.0 354.4M637.6 353.2L638.3 352.6L638.9 352.0L639.5 351.4M641.7 348.8L642.2 348.1L642.7 347.4L643.2 346.7M645.3 343.4L645.7 342.7L646.1 341.9L646.6 341.2M648.4 337.7L648.8 336.9L649.1 336.2L649.5 335.4M651.2 331.8L651.5 331.1L651.9 330.3L652.2 329.5M653.7 325.9L654.1 325.1L654.4 324.3L654.7 323.5M656.1 319.8L656.4 319.0L656.8 318.2L657.1 317.4M658.4 313.8L658.7 312.9L659.0 312.1L659.3 311.3M660.6 307.6L660.9 306.8L661.2 306.0L661.5 305.2M662.8 301.5L663.1 300.7L663.3 299.9L663.6 299.0M664.9 295.3L665.1 294.5L665.4 293.7L665.7 292.9M666.9 289.2L667.2 288.4L667.5 287.5L667.7 286.7" stroke="#f03434" stroke-width="3.1" stroke-linecap="round"/>
<path d="M82.4 295.7L82.6 294.0M83.8 278.8L84.0 277.1M85.2 261.8L85.4 260.1M86.6 244.9L86.8 243.2M88.1 227.9L88.2 226.2M89.6 211.0L89.7 209.3M91.2 194.2L91.4 192.6M92.9 178.0L93.1 176.3M94.9 162.9L95.2 161.2M97.2 149.9L97.6 148.2M99.5 142.5L101.2 140.7L102.7 142.0M104.8 148.4L105.1 150.0M107.0 161.3L107.2 162.9M108.9 176.4L109.1 178.1M110.5 192.4L110.7 194.1M112.1 209.0L112.2 210.7M113.5 225.8L113.6 227.5M114.8 242.7L115.0 244.4M116.2 259.5L116.3 261.2M117.5 276.4L117.6 278.1M118.8 293.2L118.9 294.9M120.1 310.1L120.3 311.8M121.6 326.9L121.7 328.6M123.1 343.5L123.2 345.2M124.7 359.5L124.9 361.2M126.5 374.6L126.8 376.3M128.7 387.5L129.0 389.1M130.8 394.9L132.5 396.7L134.0 395.4M136.2 389.1L136.6 387.5M138.6 376.1L138.8 374.4M140.6 360.9L140.8 359.3M142.4 344.7L142.6 343.0M144.0 328.0L144.2 326.3M145.5 311.0L145.7 309.3M147.0 294.0L147.1 292.3M148.4 277.1L148.5 275.4M149.8 260.1L149.9 258.4M151.2 243.2L151.3 241.5M152.6 226.2L152.8 224.5M154.1 209.3L154.3 207.6M155.7 192.6L155.9 190.9M157.5 176.3L157.7 174.6M159.4 161.2L159.7 159.5M161.7 148.2L162.1 146.5M164.1 140.8L165.8 139.0L167.3 140.3M169.4 146.3L169.8 147.9M171.8 158.8L172.0 160.5M173.8 173.5L174.0 175.2M175.5 189.2L175.7 190.9M177.1 205.4L177.3 207.1M178.6 221.8L178.7 223.5M180.0 238.4L180.1 240.1M181.3 254.9L181.5 256.6M182.7 271.5L182.8 273.1M184.0 287.9L184.1 289.6M185.3 304.5L185.4 306.2M186.6 320.9L186.8 322.6M188.0 337.6L188.2 339.3M189.5 353.9L189.6 355.6M191.1 370.2L191.2 371.8M192.8 385.8L193.0 387.5M194.7 400.4L195.0 402.1M196.9 413.0L197.3 414.7M199.3 420.1L201.0 421.9L202.5 420.6M204.6 414.6L205.0 412.9M206.9 402.1L207.2 400.4M208.9 387.5L209.1 385.8M210.6 371.8L210.8 370.1M212.1 355.7L212.3 354.0M213.6 339.4L213.8 337.7M215.0 323.0L215.1 321.3M216.3 306.6L216.5 304.9M217.7 290.2L217.8 288.5M219.0 273.7L219.1 272.0M220.3 257.4L220.5 255.7M221.7 240.9L221.9 239.2M223.2 224.6L223.3 222.9M224.7 208.5L224.9 206.8M226.4 192.9L226.6 191.2M228.3 178.3L228.6 176.6M230.5 165.8L230.9 164.1M232.8 158.8L234.5 157.0L236.0 158.3M238.0 164.1L238.3 165.7M240.2 176.1L240.5 177.8M242.1 190.4L242.3 192.1M243.8 205.6L244.0 207.3M245.3 221.4L245.5 223.1M246.8 237.5L246.9 239.2M248.2 253.5L248.3 255.2M249.5 269.6L249.7 271.3M250.8 285.6L251.0 287.3M252.2 301.7L252.3 303.4M253.6 317.7L253.7 319.4M255.0 333.9L255.2 335.6M256.5 349.6L256.7 351.3M258.2 364.8L258.4 366.5M260.0 379.0L260.3 380.7M262.1 391.1L262.5 392.7M264.3 398.0L266.0 399.8L267.5 398.5M269.6 392.6L270.0 390.9M272.0 380.2L272.2 378.5M273.9 365.8L274.1 364.1M275.7 350.2L275.8 348.5M277.3 334.1L277.4 332.4M278.7 317.8L278.9 316.1M280.1 301.7L280.3 300.0M281.5 285.2L281.6 283.5M282.8 268.9L283.0 267.2M284.1 252.5L284.3 250.8M285.5 236.1L285.7 234.4M286.9 219.9L287.0 218.2M288.4 203.7L288.5 202.0M289.9 187.5L290.1 185.9M291.6 172.0L291.8 170.3M293.5 157.7L293.8 156.0M295.7 145.3L296.1 143.6M298.0 138.3L299.7 136.5L301.2 137.8M303.5 144.0L303.9 145.6M305.9 156.9L306.2 158.6M307.9 172.1L308.1 173.7M309.7 188.2L309.9 189.9M311.3 204.8L311.5 206.5M312.8 221.4L313.0 223.1M314.3 238.4L314.4 240.1M315.7 255.2L315.8 256.9M317.1 272.2L317.2 273.9M318.4 289.1L318.6 290.8M319.8 306.0L320.0 307.6M321.3 322.9L321.4 324.6M322.7 339.5L322.9 341.2M324.4 356.1L324.5 357.8M326.1 372.2L326.3 373.9M328.1 387.3L328.3 389.0M330.4 400.3L330.8 401.9M332.8 407.6L334.5 409.4L336.0 408.1M338.2 402.3L338.6 400.6M340.7 390.0L341.0 388.3M342.7 375.6L343.0 373.9M344.6 360.2L344.7 358.5M346.2 344.3L346.4 342.6M347.8 328.0L347.9 326.3M349.3 311.8L349.4 310.1M350.7 295.5L350.9 293.8M352.1 279.3L352.3 277.6M353.6 263.0L353.7 261.3M355.1 246.9L355.2 245.2M356.6 230.6L356.8 228.9M358.3 214.7L358.5 213.0M360.1 199.3L360.3 197.6M362.1 184.9L362.3 183.2M364.4 172.6L364.8 170.9M366.8 165.8L368.5 164.0L370.0 165.3M372.2 171.0L372.6 172.6M374.6 183.3L374.9 184.9M376.7 197.6L376.9 199.3M378.5 213.0L378.6 214.7M380.1 228.8L380.3 230.5M381.7 245.1L381.8 246.8M383.1 261.2L383.3 262.9M384.6 277.4L384.7 279.1M386.0 293.6L386.1 295.3M387.4 309.8L387.6 311.5M388.9 325.9L389.0 327.6M390.4 342.1L390.6 343.8M392.0 358.0L392.2 359.6M393.8 373.3L394.0 375.0M395.8 387.6L396.0 389.3M398.1 399.9L398.5 401.6M400.5 406.7L402.2 408.5L403.7 407.2M406.0 401.0L406.4 399.3M408.4 388.1L408.7 386.4M410.5 373.0L410.7 371.3M412.3 356.7L412.5 355.0M414.0 340.1L414.1 338.4M415.5 323.4L415.6 321.7M417.0 306.5L417.1 304.8M418.4 289.6L418.5 287.9M419.8 272.6L419.9 270.9M421.2 255.7L421.3 254.0M422.6 238.8L422.7 237.1M424.0 221.9L424.2 220.2M425.6 205.2L425.7 203.5M427.2 188.6L427.4 186.9M429.0 172.3L429.2 170.6M431.0 157.2L431.3 155.6M433.3 144.4L433.7 142.7M435.8 137.1L437.5 135.3L439.0 136.6M441.1 142.4L441.5 144.1M443.4 154.7L443.7 156.3M445.4 169.1L445.6 170.8M447.1 184.5L447.3 186.2M448.7 200.4L448.8 202.1M450.1 216.5L450.3 218.2M451.5 232.7L451.6 234.4M452.9 249.1L453.0 250.8M454.2 265.3L454.3 267.0M455.5 281.5L455.7 283.2M456.9 297.8L457.0 299.5M458.3 314.1L458.4 315.8M459.7 330.2L459.9 331.9M461.3 346.0L461.4 347.7M462.9 361.4L463.2 363.1M464.8 375.8L465.1 377.5M467.0 388.0L467.4 389.7M469.3 394.9L471.0 396.7L472.5 395.4M474.7 389.5L475.1 387.8M477.2 376.9L477.5 375.3M479.2 362.2L479.5 360.5M481.1 346.6L481.2 344.9M482.7 330.3L482.9 328.6M484.3 313.9L484.5 312.2M485.8 297.4L486.0 295.7M487.3 280.9L487.5 279.2M488.8 264.4L488.9 262.7M490.3 247.9L490.5 246.2M491.9 231.5L492.0 229.8M493.5 215.2L493.7 213.5M495.3 199.6L495.5 197.9M497.3 184.9L497.6 183.2M499.6 172.4L500.0 170.7M502.1 165.3L503.8 163.5L505.3 164.8M507.5 170.9L507.9 172.5M509.9 183.5L510.2 185.2M511.9 198.3L512.1 200.0M513.7 214.2L513.9 215.9M515.3 230.5L515.5 232.2M516.9 247.0L517.0 248.7M518.3 263.6L518.5 265.3M519.8 280.3L519.9 282.0M521.2 296.9L521.3 298.6M522.6 313.6L522.8 315.3M524.1 330.2L524.2 331.9M525.6 346.8L525.7 348.4M527.2 363.1L527.4 364.7M529.0 378.9L529.2 380.6M530.9 393.7L531.2 395.3M533.2 406.3L533.6 408.0M535.6 413.4L537.3 415.2L538.8 413.9M541.1 407.6L541.4 405.9M543.5 394.6L543.7 392.9M545.5 379.4L545.7 377.7M547.3 363.2L547.4 361.5M548.9 346.5L549.1 344.8M550.4 329.5L550.6 327.8M551.8 312.7L552.0 311.0M553.2 295.7L553.4 294.0M554.6 278.7L554.7 277.0M556.0 261.7L556.1 260.0M557.4 244.7L557.5 243.0M558.8 227.9L558.9 226.2M560.3 210.9L560.4 209.2M561.9 194.2L562.1 192.5M563.7 178.0L563.9 176.3M565.6 162.8L565.9 161.2M567.9 149.9L568.3 148.2M570.3 142.5L572.0 140.7L573.5 142.0M575.7 148.0L576.1 149.7M578.0 160.6L578.3 162.2M580.0 175.3L580.2 177.0M581.8 191.0L581.9 192.7M583.4 207.3L583.5 209.0M584.9 223.7L585.0 225.4M586.3 240.2L586.5 241.9M587.7 256.8L587.9 258.5M589.1 273.4L589.2 275.1M590.5 290.0L590.6 291.7M591.9 306.5L592.1 308.2M593.4 322.9L593.6 324.6M595.0 339.1L595.2 340.8M596.7 354.9L596.9 356.6M598.7 369.6L598.9 371.2M600.9 382.1L601.3 383.7M603.2 389.2L604.9 391.0L606.4 389.7M608.8 383.8L609.3 382.2M611.4 371.3L611.7 369.6M613.6 356.5L613.8 354.9M615.5 340.7L615.7 339.0M617.3 324.4L617.4 322.7M618.9 307.9L619.1 306.2M620.5 291.4L620.7 289.7M622.1 274.8L622.2 273.1M623.6 258.3L623.8 256.6M625.2 241.8L625.4 240.1M626.9 225.3L627.0 223.6M628.6 209.0L628.8 207.3M630.5 193.2L630.7 191.5M632.6 178.5L632.9 176.8M635.1 165.9L635.5 164.3M637.7 158.9L639.4 157.1L640.9 158.4M643.2 164.7L643.5 166.4M645.6 177.8L645.8 179.4M647.6 193.0L647.9 194.7M649.5 209.4L649.7 211.1M651.1 226.1L651.3 227.8M652.7 242.9L652.9 244.6M654.2 260.0L654.4 261.7M655.7 277.0L655.8 278.7M657.2 294.1L657.3 295.8M658.7 311.1L658.8 312.8M660.2 328.0L660.4 329.7M661.9 344.7L662.0 346.3M663.7 361.0L663.9 362.7M665.7 376.2L665.9 377.9M668.0 389.2L668.4 390.9" stroke="#1464e0" stroke-width="3.1" stroke-linecap="round"/>
</g>
<rect x="84.3" y="8.7" width="584.3" height="470.6" fill="none" stroke="#1a1a1a" stroke-width="1.9"/>
<g font-family="'Liberation Serif', serif" font-size="20" fill="#222" transform="scale(0.900,1)">
<text transform="rotate(0.05 93.7 507.3)" x="77.9 88.7 99.4" y="507.3">200</text>
<text transform="rotate(0.05 223.5 507.3)" x="207.7 218.5 229.3" y="507.3">202</text>
<text transform="rotate(0.05 353.4 507.3)" x="337.6 348.4 359.1" y="507.3">204</text>
<text transform="rotate(0.05 483.2 507.3)" x="467.4 478.2 489.0" y="507.3">206</text>
<text transform="rotate(0.05 613.0 507.3)" x="597.3 608.0 618.8" y="507.3">208</text>
<text transform="rotate(0.05 742.9 507.3)" x="727.1 737.9 748.7" y="507.3">210</text>
<text transform="translate(38.3,487.8) scale(1.45,0.8)">-</text>
<text transform="rotate(0.05 60 487.3)" x="49.2 60.1 71.7" y="487.3">0.6</text>
<text transform="translate(38.3,420.6) scale(1.45,0.8)">-</text>
<text transform="rotate(0.05 60 420.1)" x="49.2 60.1 71.7" y="420.1">0.4</text>
<text transform="translate(38.3,353.3) scale(1.45,0.8)">-</text>
<text transform="rotate(0.05 60 352.8)" x="49.2 60.1 71.7" y="352.8">0.2</text>
<text transform="rotate(0.05 60 285.6)" x="49.2 60.1 71.7" y="285.6">0.0</text>
<text transform="rotate(0.05 60 218.4)" x="49.2 60.1 71.7" y="218.4">0.2</text>
<text transform="rotate(0.05 60 151.2)" x="49.2 60.1 71.7" y="151.2">0.4</text>
<text transform="rotate(0.05 60 83.9)" x="49.2 60.1 71.7" y="83.9">0.6</text>
<text transform="rotate(0.05 60 16.7)" x="49.2 60.1 71.7" y="16.7">0.8</text>
</g>
<g font-family="'Liberation Serif', 'Noto Serif CJK SC', serif" font-weight="bold" font-size="24.5" fill="#000">
<text x="317.8" y="540">Time</text>
<text font-size="20" transform="translate(369.2,539.7) scale(1.2,1)">（</text>
<text x="396.8" y="540">ms)</text>
<g transform="translate(23.2,463) rotate(-90)" font-size="23.8">
<text word-spacing="4.7">Shell acceleration Amplitude</text>
<text font-size="20" transform="translate(300.2,-0.8) scale(1.25,1)">（</text>
<text x="328.2">mm/ms<tspan font-size="17" dy="-9.4" dx="0.6">2</tspan></text>
<text font-size="20" transform="translate(415.1,-0.8) scale(1.25,1)">）</text>
</g>
</g>
<g fill="none" stroke-linecap="round">
<path d="M378 26.3H432.2" stroke="#484848" stroke-width="3"/>
<path d="M377.7 66H380.7M398.4 66H401.4M419.2 66H422.2" stroke="#1464e0" stroke-width="2.8"/>
<path d="M377.8 105.3H393M412.6 105.3H428" stroke="#f03434" stroke-width="3.1"/>
</g>
<g font-family="'Liberation Serif', serif" font-weight="bold" font-size="24.5" fill="#000">
<text x="439.4" y="35.2">k<tspan font-size="16.5" dy="6.0" dx="-0.6">1</tspan><tspan dy="-6.0" dx="-0.2">=1.45×10</tspan><tspan font-size="17" dy="-10.6" dx="-0.3">9</tspan><tspan dy="10.6">N/m</tspan></text>
<text x="439.4" y="75.0">k<tspan font-size="16.5" dy="6.0" dx="-0.6">1</tspan><tspan dy="-6.0" dx="-0.2">=2.9×10</tspan><tspan font-size="17" dy="-10.6" dx="-0.3">9</tspan><tspan dy="10.6">N/m</tspan></text>
<text x="439.4" y="114.3">k<tspan font-size="16.5" dy="6.0" dx="-0.6">1</tspan><tspan dy="-6.0" dx="-0.2">=5.8×10</tspan><tspan font-size="17" dy="-10.6" dx="-0.3">9</tspan><tspan dy="10.6">N/m</tspan></text>
</g>
</svg>
</body></html>
